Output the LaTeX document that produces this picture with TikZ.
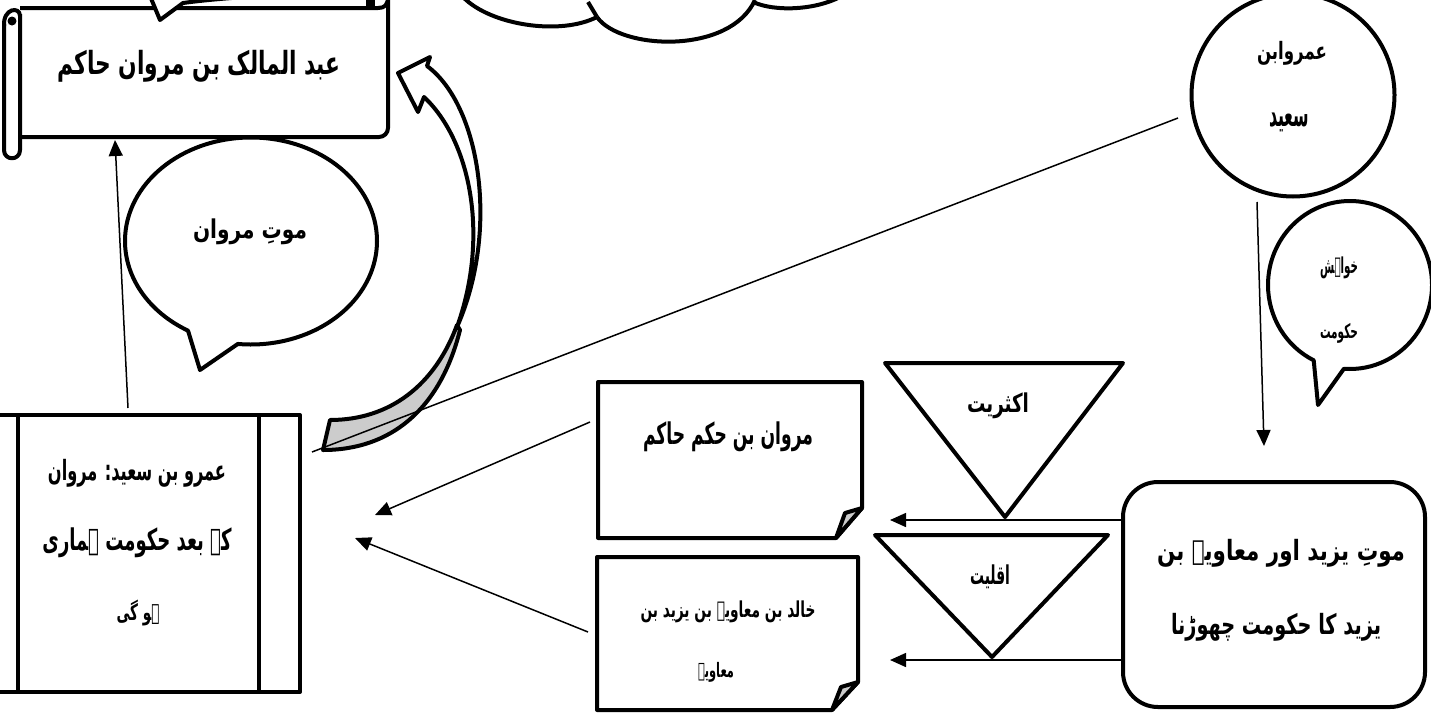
\documentclass[tikz,border=0pt]{standalone}
\usepackage{fontspec}
\usepackage{graphicx}
\TeXXeTstate=1
\newfontfamily\arabicfont[Script=Arabic]{DejaVu Sans}
\usetikzlibrary{arrows.meta,shapes.callouts,shapes.geometric}
\newcommand\urw[3]{\resizebox*{#1pt}{#2pt}{\arabicfont\bfseries #3}}
\begin{document}
\begin{tikzpicture}[x=1pt,y=-1pt,
  outl/.style={line width=4pt, line join=round},
  conn/.style={line width=1.5pt},
  arr/.style={conn,-{Triangle[length=16pt,width=14pt]}},
  lbl/.style={inner sep=0pt, outer sep=0pt}]
\useasboundingbox (0,0) rectangle (1431,718);
\fill[white] (0,0) rectangle (1431,718);
\begin{scope}
\clip (0,0) rectangle (1431,718);

% ---------- cloud (bottom scallops only) ----------
\draw[outl] (463,-3) .. controls (490,25) and (560,36) .. (597,17);
\draw[outl] (588,2) -- (597,17);
\draw[outl] (597,17) .. controls (620,50) and (730,55) .. (755,0);
\draw[outl] (753,2) .. controls (775,12) and (815,10) .. (840,-3);

% ---------- scroll ----------
\draw[outl] (20,8) -- (378,8) .. controls (385,8) and (388,5) .. (388,-4);
\draw[outl, rounded corners=9pt] (388,-4) -- (388,137) -- (20,137);
\fill (366,0) rectangle (375,6);
\draw[outl] (4,24) -- (4,150) .. controls (4,161) and (20,161) .. (20,150) -- (20,14);
\draw[outl] (4,26) .. controls (3,8) and (20,6) .. (20,16);
\fill (12,21) circle (4.5pt);
% tail of a callout above the picture
\filldraw[outl, fill=white] (150,-4) -- (160,20) -- (183,3) .. controls (205,0) and (230,-2) .. (258,-4);
\node[lbl] (scrollT) at (199,66) {\urw{283}{32}{\beginR عبد المالک بن مروان حاکم\endR}};
\coordinate (scrollB) at (115,140);

% ---------- speech bubble: death of Marwan ----------
\node[ellipse callout, draw, outl, fill=white, inner sep=0pt,
      minimum width=252pt, minimum height=207pt,
      callout absolute pointer={(200,370)}, callout pointer arc=24] (bubL) at (251,241) {};
\node[lbl] (bubLT) at (250,232) {\urw{114}{26}{\beginR موتِ مروان\endR}};

% ---------- curved block arrow ----------
\filldraw[outl, fill=black!20] (330,420) .. controls (390,420) and (435,385) .. (457,325)
   -- (460,330) .. controls (440,410) and (390,450) .. (323,450) -- cycle;
\filldraw[outl, fill=white] (427,66) .. controls (480,105) and (500,230) .. (457,327)
   .. controls (490,235) and (470,140) .. (424,97) -- (418,112) -- (398,73) -- (430,57) -- cycle;

% ---------- left box (predefined process) ----------
\draw[outl] (-30,415) rectangle (300,692);
\draw[outl] (18,415) -- (18,692);
\draw[outl] (259,415) -- (259,692);
\node[lbl] (lb1) at (137,473) {\urw{178}{28}{\beginR عمرو بن سعید: مروان\endR}};
\node[lbl] (lb2) at (137,543) {\urw{189}{30}{\beginR کے بعد حکومت ہماری\endR}};
\node[lbl] (lb3) at (138,613) {\urw{43}{26}{\beginR ہو گی\endR}};
\coordinate (lbTop) at (128,408);
\coordinate (lbR) at (312,452);
\coordinate (lbIn1) at (375,515);
\coordinate (lbIn2) at (355,538);

% ---------- circle ----------
\node[circle, draw, outl, inner sep=0pt, minimum size=203pt] (circ) at (1293,95) {};
\node[lbl] (circT1) at (1292,53) {\urw{70}{24}{\beginR عمروابن\endR}};
\node[lbl] (circT2) at (1289,122) {\urw{40}{19}{\beginR سعید\endR}};
\coordinate (circL) at (1178,118);
\coordinate (circB) at (1257,202);

% ---------- speech bubble: desire for rule ----------
\node[ellipse callout, draw, outl, fill=white, inner sep=0pt,
      minimum width=164pt, minimum height=168pt,
      callout absolute pointer={(1318,405)}, callout pointer arc=22] (bubR) at (1350,285) {};
\node[lbl] (bubRT1) at (1339,268) {\urw{38}{22}{\beginR خواہش\endR}};
\node[lbl] (bubRT2) at (1339,333) {\urw{38}{20}{\beginR حکومت\endR}};

% ---------- rounded rectangle ----------
\node[draw, outl, rounded corners=35pt, inner sep=0pt,
      minimum width=302pt, minimum height=225pt] (rr) at (1274,594.5) {};
\node[lbl] (rrT1) at (1281,553) {\urw{248}{28}{\beginR موتِ یزید اور معاویہ بن\endR}};
\node[lbl] (rrT2) at (1276,627) {\urw{210}{28}{\beginR یزید کا حکومت چھوڑنا\endR}};
\coordinate (rrTop) at (1264,446);
\coordinate (rrL1) at (1122,520);
\coordinate (rrL2) at (1122,660);

% ---------- triangles ----------
\draw[outl] (885,363) -- (1123,363) -- (1005,517) -- cycle;
\node[lbl] (tri1) at (998,406) {\urw{62}{26}{\beginR اکثریت\endR}};
\draw[outl] (875,535) -- (1108,535) -- (992,657) -- cycle;
\node[lbl] (tri2) at (990,577) {\urw{40}{24}{\beginR اقلیت\endR}};
\coordinate (nIn1) at (890,520);
\coordinate (nIn2) at (890,660);

% ---------- folded-corner notes ----------
\draw[outl] (598,382) -- (862,382) -- (862,508) -- (836,538) -- (598,538) -- cycle;
\filldraw[outl, fill=black!20] (836,538) -- (845,513) -- (862,508) -- cycle;
\node[lbl] (n1T) at (728,437) {\urw{170}{30}{\beginR مروان بن حکم حاکم\endR}};
\coordinate (n1L) at (590,422);

\draw[outl] (597,557) -- (858,557) -- (858,682) -- (832,710) -- (597,710) -- cycle;
\filldraw[outl, fill=black!20] (832,710) -- (841,687) -- (858,682) -- cycle;
\node[lbl] (n2T1) at (728,612) {\urw{175}{22}{\beginR خالد بن معاویہ بن یزید بن\endR}};
\node[lbl] (n2T2) at (716,672) {\urw{36}{20}{\beginR معاویہ\endR}};
\coordinate (n2L) at (588,632);

% ---------- connectors ----------
\draw[arr] (lbTop) -- (scrollB);
\draw[conn] (circL) -- (lbR);
\draw[arr] (circB) -- (rrTop);
\draw[arr] (rrL1) -- (nIn1);
\draw[arr] (rrL2) -- (nIn2);
\draw[arr] (n1L) -- (lbIn1);
\draw[arr] (n2L) -- (lbIn2);
\end{scope}
\end{tikzpicture}
\end{document}
